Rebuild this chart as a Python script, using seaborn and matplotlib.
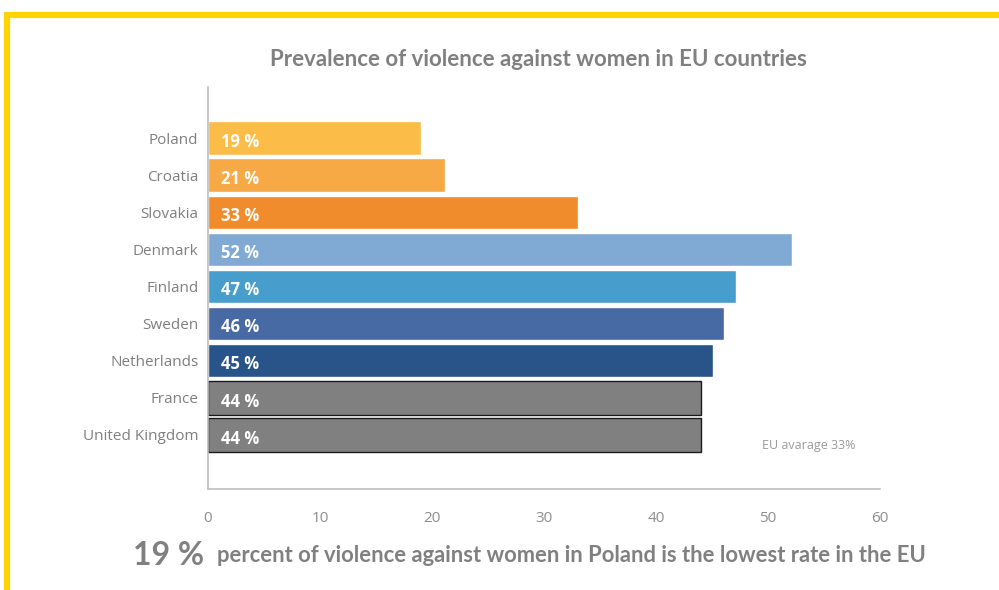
import matplotlib
matplotlib.use("Agg")
import matplotlib.pyplot as plt
import seaborn as sns
import pandas as pd
from matplotlib.patches import Rectangle

# data
countries = ["Poland", "Croatia", "Slovakia", "Denmark", "Finland",
             "Sweden", "Netherlands", "France", "United Kingdom"]
values = [19, 21.2, 33, 52.1, 47.1, 46.1, 45.1, 44, 44]
labels = ["19 %", "21 %", "33 %", "52 %", "47 %", "46 %", "45 %", "44 %", "44 %"]
colors = ["#FBBD48", "#F6A945", "#F08C2C", "#80AAD3", "#479DCB",
          "#4769A4", "#285489", "#808080", "#808080"]
edges = ["none"] * 7 + ["#1a1a1a", "#1a1a1a"]
xticks = [0, 10, 20, 30, 40, 50, 60]

df = pd.DataFrame({"country": countries, "value": values})

sns.set_style("white")
plt.rcParams["font.family"] = ["Open Sans", "DejaVu Sans"]

fig = plt.figure(figsize=(9.99, 5.9), dpi=100)
ax = fig.add_axes([0.2082, 0.1712, 0.6727, 0.6813])

sns.barplot(data=df, x="value", y="country", hue="country",
            palette=dict(zip(countries, colors)), orient="h",
            width=0.9, saturation=1, legend=False, ax=ax)

for bar, ec in zip(ax.patches, edges):
    if ec != "none":
        bar.set_edgecolor(ec)
        bar.set_linewidth(1.0)

for i, lab in enumerate(labels):
    ax.text(1.2, i + 0.1, lab, color="white", fontsize=12, fontweight="bold",
            va="center", ha="left", family=["Open Sans", "DejaVu Sans"])

ax.set_xlim(0, 60)
ax.set_ylim(9.455, -1.375)
ax.set_xticks(xticks)
ax.set_xlabel("")
ax.set_ylabel("")
ax.tick_params(axis="x", direction="in", length=8, color="#bfbfbf",
               labelcolor="#8c8c8c", labelsize=11, pad=16)
ax.tick_params(axis="y", length=0, labelcolor="#7f7f7f", labelsize=11, pad=7)
for side in ["top", "right"]:
    ax.spines[side].set_visible(False)
for side in ["left", "bottom"]:
    ax.spines[side].set_color("#bfbfbf")
    ax.spines[side].set_linewidth(1.2)

ax.text(0.894, 0.107, "EU avarage 33%", transform=ax.transAxes,
        fontsize=9, color="#9a9a9a", ha="center", va="center")

fig.text(0.539, 0.9, "Prevalence of violence against women in EU countries",
         fontsize=16, fontweight="bold", color="#808080", ha="center",
         va="center", family=["Lato", "DejaVu Sans"])

fig.text(0.133, 0.058, "19 %", fontsize=23, fontweight="bold", color="#808080",
         ha="left", va="center", family=["Lato", "DejaVu Sans"])
fig.text(0.217, 0.058,
         "percent of violence against women in Poland is the lowest rate in the EU",
         fontsize=15.8, fontweight="bold", color="#808080", ha="left",
         va="center", family=["Lato", "DejaVu Sans"])

# yellow frame on top and left
fig.patches.append(Rectangle((0.0075, -0.1), 1.2, 1.074, transform=fig.transFigure,
                             fill=False, edgecolor="#FFD400", linewidth=4.5))

fig.savefig("out.png", dpi=100)
